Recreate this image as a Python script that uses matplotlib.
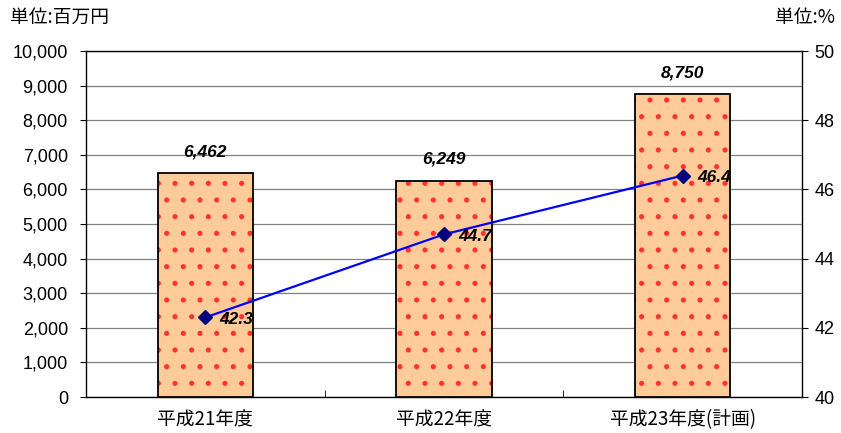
import numpy as np
import matplotlib
matplotlib.use('Agg')
import matplotlib.pyplot as plt

plt.rcParams['font.family'] = ['Noto Sans CJK JP', 'DejaVu Sans']
plt.rcParams['hatch.linewidth'] = 1.3

# 年度別の金額(百万円)と比率(%)
years = ['平成21年度', '平成22年度', '平成23年度(計画)']
amount = [6462, 6249, 8750]
ratio = [42.3, 44.7, 46.4]

num_font = dict(family='Liberation Sans', fontsize=12.5, fontweight='bold',
                fontstyle='italic')

fig = plt.figure(figsize=(8.41, 4.33), dpi=100)
ax = fig.add_axes([86/841, 36/433, 716/841, 346/433])
x = np.arange(len(years))

ax.set_xlim(-0.5, 2.5)
ax.set_ylim(0, 10000)
ax.set_yticks(np.arange(0, 10001, 1000))
ax.set_yticklabels([f'{v:,}' for v in range(0, 10001, 1000)],
                   family='Liberation Sans', fontsize=13)
ax.yaxis.grid(True, color='#808080', linewidth=0.9)
ax.set_axisbelow(True)

bars = ax.bar(x, amount, width=0.40, color='#FFCC99', edgecolor='black',
              linewidth=1.3, hatch='.', zorder=2)
for b in bars:
    b._hatch_color = (1.0, 0.2, 0.2, 1.0)
for xi, v in zip(x, amount):
    ax.text(xi, v + 400, f'{v:,}', ha='center', va='bottom', **num_font)

ax.set_xticks(x)
ax.set_xticklabels(years, fontsize=13.5)
ax.tick_params(axis='x', length=0, pad=9)
ax.set_xticks([0.5, 1.5], minor=True)
ax.tick_params(axis='x', which='minor', direction='in', length=5)
ax.tick_params(axis='y', length=4, pad=9)

for s in ax.spines.values():
    s.set_color('#404040')
    s.set_linewidth(1.0)

ax2 = ax.twinx()
ax2.set_ylim(40, 50)
ax2.set_yticks(np.arange(40, 51, 2))
ax2.set_yticklabels([str(v) for v in range(40, 51, 2)],
                    family='Liberation Sans', fontsize=13)
ax2.tick_params(axis='y', length=4, pad=5)
ax2.plot(x, ratio, color='#0000FF', linewidth=1.6, marker='D', markersize=7,
         markerfacecolor='#000080', markeredgecolor='#000080', zorder=3)
for xi, v in zip(x, ratio):
    ax2.text(xi + 0.06, v - 0.05, f'{v}', ha='left', va='center', **num_font)

fig.text(10/841, 1 - 17/433, '単位:百万円', ha='left', va='center', fontsize=13.5)
fig.text(835/841, 1 - 17/433, '単位:%', ha='right', va='center', fontsize=13.5)

fig.savefig('out.png', dpi=100)
